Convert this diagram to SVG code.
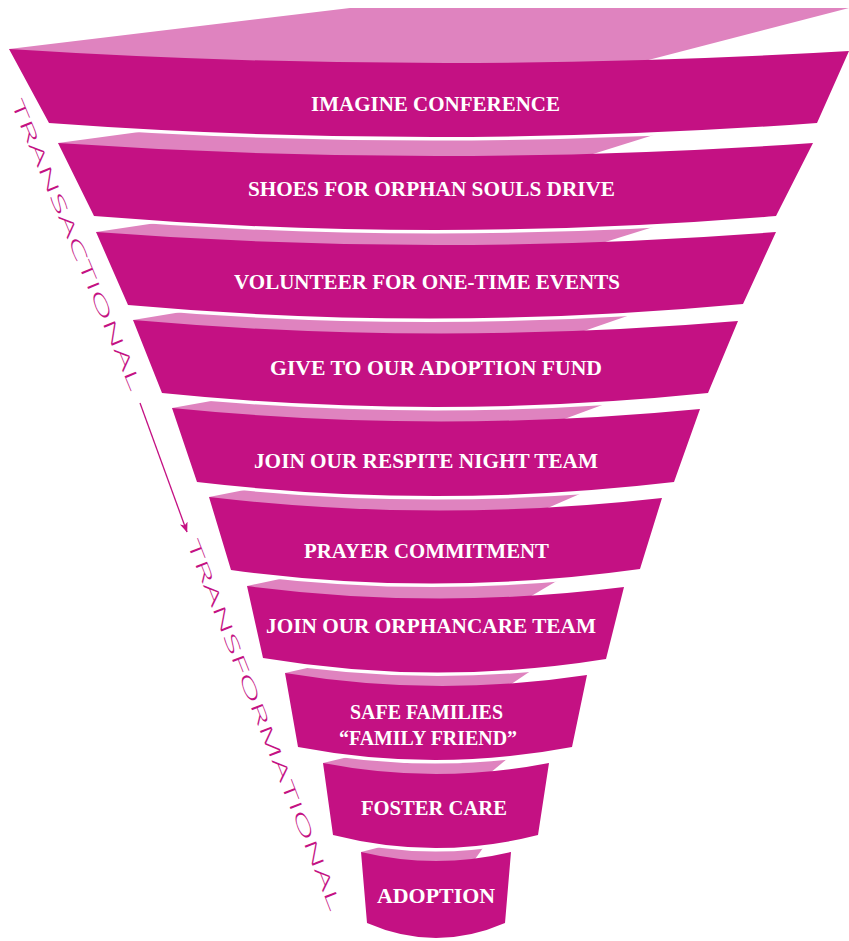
<svg xmlns="http://www.w3.org/2000/svg" width="849" height="941" viewBox="0 0 849 941">
<defs>
<style>
.band{fill:#C41183}
.back{fill:#DF83BF}
.gap{fill:none;stroke:#fff;stroke-width:7}
.lbl{font-family:'Liberation Serif','Times New Roman',serif;font-weight:bold;font-size:21px;fill:#fff}
.axis{font-family:'Open Sans','Liberation Sans',sans-serif;font-weight:300;font-size:17px;fill:#C41183}
.conn{fill:none;stroke:#C41183;stroke-width:1.3}
</style>
<marker id="arrow" markerUnits="userSpaceOnUse" markerWidth="10" markerHeight="10" viewBox="0 0 10 10" refX="9.5" refY="5" orient="auto">
<path d="M0,1 L10,5 L0,9 L2.5,5 Z" fill="#C41183"/>
</marker>
</defs>
<rect width="849" height="941" fill="#fff"/>

<g id="node-adoption">
<path class="back" d="M361,852 L439,832 L490,838 L466,872 L391,872 Z"/>
<path class="band" d="M361,852 Q436,870 511,852 L505,923 Q436,953 367,923 Z"/>
<text class="lbl" x="377" y="903" textLength="118" lengthAdjust="spacingAndGlyphs">ADOPTION</text>
</g>

<g id="node-foster-care">
<path class="gap" d="M538,835 Q435.5,861 333,835"/>
<path class="back" d="M323,763 L402,744 L519,749 L478,783 L353,783 Z"/>
<path class="band" d="M323,763 Q436,785 549,763 L538,835 Q435.5,861 333,835 Z"/>
<text class="lbl" x="361" y="815" textLength="146" lengthAdjust="spacingAndGlyphs">FOSTER CARE</text>
</g>

<g id="node-safe-families">
<path class="gap" d="M572,747 Q435,773 298,747"/>
<path class="back" d="M285,673 L365,655 L547,660 L495,695 L315,693 Z"/>
<path class="band" d="M285,673 Q436,698 587,675 L572,747 Q435,773 298,747 Z"/>
<text class="lbl" x="350" y="719" textLength="153" lengthAdjust="spacingAndGlyphs">SAFE FAMILIES</text>
<text class="lbl" x="339" y="745" textLength="178" lengthAdjust="spacingAndGlyphs">“FAMILY FRIEND”</text>
</g>

<g id="node-orphancare-team">
<path class="gap" d="M606,659 Q434.5,686.5 263,658"/>
<path class="back" d="M247,586 L337,567 L572,572 L516,605 L277,606 Z"/>
<path class="band" d="M247,586 Q435.5,610.5 624,587 L606,659 Q434.5,686.5 263,658 Z"/>
<text class="lbl" x="266" y="633" textLength="330" lengthAdjust="spacingAndGlyphs">JOIN OUR ORPHANCARE TEAM</text>
</g>

<g id="node-prayer">
<path class="gap" d="M640,569 Q435.5,597.5 231,570"/>
<path class="back" d="M209,497 L301,479 L605,483 L527,517 L239,517 Z"/>
<path class="band" d="M209,497 Q435.5,523.5 662,498 L640,569 Q435.5,597.5 231,570 Z"/>
<text class="lbl" x="304" y="558" textLength="245" lengthAdjust="spacingAndGlyphs">PRAYER COMMITMENT</text>
</g>

<g id="node-respite">
<path class="gap" d="M674,482 Q435.5,510 197,482"/>
<path class="back" d="M172,408 L272,390 L632,394 L540,428 L202,428 Z"/>
<path class="band" d="M172,408 Q436,434.5 700,409 L674,482 Q435.5,510 197,482 Z"/>
<text class="lbl" x="254" y="468" textLength="344" lengthAdjust="spacingAndGlyphs">JOIN OUR RESPITE NIGHT TEAM</text>
</g>

<g id="node-adoption-fund">
<path class="gap" d="M708,393 Q435,421 162,393"/>
<path class="back" d="M133,320 L242,302 L659,305 L558,340 L163,340 Z"/>
<path class="band" d="M133,320 Q435.5,346.5 738,321 L708,393 Q435,421 162,393 Z"/>
<text class="lbl" x="270" y="375" textLength="332" lengthAdjust="spacingAndGlyphs">GIVE TO OUR ADOPTION FUND</text>
</g>

<g id="node-volunteer">
<path class="gap" d="M743,304 Q435.5,332.5 128,305"/>
<path class="back" d="M96,232 L223,213 L682,218 L570,253 L126,252 Z"/>
<path class="band" d="M96,232 Q436,258 776,232 L743,304 Q435.5,332.5 128,305 Z"/>
<text class="lbl" x="234" y="289" textLength="386" lengthAdjust="spacingAndGlyphs">VOLUNTEER FOR ONE-TIME EVENTS</text>
</g>

<g id="node-shoes">
<path class="gap" d="M776,216 Q435,244 94,216"/>
<path class="back" d="M58,143 L228,120 L692,123 L561,164 L88,163 Z"/>
<path class="band" d="M58,143 Q435.5,169 813,143 L776,216 Q435,244 94,216 Z"/>
<text class="lbl" x="248" y="196" textLength="367" lengthAdjust="spacingAndGlyphs">SHOES FOR ORPHAN SOULS DRIVE</text>
</g>

<g id="node-imagine">
<path class="gap" d="M817,123 Q433,151 49,123"/>
<path class="back" d="M9,49 L350,8 L849,8 L602,72 L40,66 Z"/>
<path class="band" d="M9,49 Q429,76 849,51 L817,123 Q433,151 49,123 Z"/>
<text class="lbl" x="311" y="111" textLength="249" lengthAdjust="spacingAndGlyphs">IMAGINE CONFERENCE</text>
</g>

<g id="axis-labels">
<text class="axis" transform="translate(10.5,102.3) rotate(67.4)" x="0" y="0" textLength="314" lengthAdjust="spacingAndGlyphs">TRANSACTIONAL</text>
<text class="axis" transform="translate(186.4,542.2) rotate(68.7)" x="0" y="0" textLength="397" lengthAdjust="spacingAndGlyphs">TRANSFORMATIONAL</text>
</g>

<g id="connectors">
<path class="conn" d="M140,403 L187,532" marker-end="url(#arrow)"/>
</g>
</svg>
